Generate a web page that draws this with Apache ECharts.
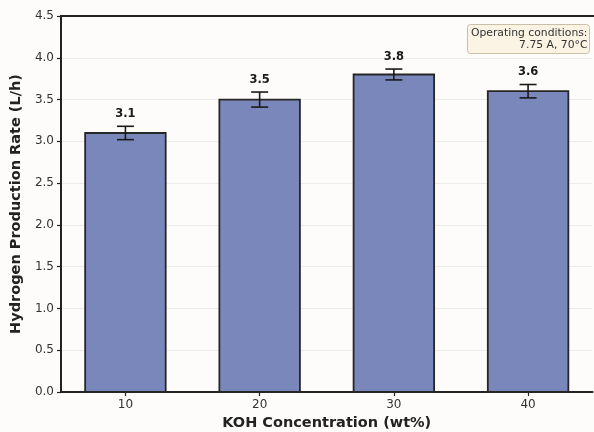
<!DOCTYPE html>
<html>
<head>
<meta charset="utf-8">
<script src="https://cdn.jsdelivr.net/npm/echarts@6/dist/echarts.min.js"></script>
<style>
html, body { margin: 0; padding: 0; background: #fdfcfb; }
#chart { width: 594px; height: 432px; }
</style>
</head>
<body>
<div id="chart"></div>
<script>
// KOH concentration (wt%) and measured hydrogen production rate (L/h)
const concentrations = [10, 20, 30, 40];
const rates = [3.1, 3.5, 3.8, 3.6];
const rateErrors = [0.08, 0.09, 0.065, 0.08];
const yTicks = [0, 0.5, 1, 1.5, 2, 2.5, 3, 3.5, 4, 4.5];
const barHalfWidth = 3; // in wt% units

const chart = echarts.init(document.getElementById('chart'), null, { renderer: 'canvas' });

const barData = concentrations.map((c, i) => [c, rates[i]]);
const errData = concentrations.map((c, i) => [c, rates[i], rateErrors[i]]);

const axisColor = '#222';
const fontFamily = 'DejaVu Sans';

chart.setOption({
  backgroundColor: '#fdfcfb',
  animation: false,
  grid: { left: 61, right: 1.5, top: 16, bottom: 40, outerBoundsMode: 'none' },
  xAxis: {
    type: 'value',
    min: 5.2,
    max: 44.8,
    name: 'KOH Concentration (wt%)',
    nameLocation: 'middle',
    nameGap: 24,
    nameTextStyle: { fontFamily, fontSize: 14.5, fontWeight: 'bold', color: '#222' },
    axisLine: { onZero: false, lineStyle: { color: axisColor, width: 2 } },
    axisTick: { show: true, customValues: concentrations, length: 4, lineStyle: { color: axisColor, width: 1.2 } },
    axisLabel: { customValues: concentrations, fontFamily, fontSize: 12, color: '#333', margin: 7 },
    splitLine: { show: false }
  },
  yAxis: {
    type: 'value',
    min: 0,
    max: 4.5,
    interval: 0.5,
    name: 'Hydrogen Production Rate (L/h)',
    nameLocation: 'middle',
    nameGap: 30,
    nameTextStyle: { fontFamily, fontSize: 14.5, fontWeight: 'bold', color: '#222' },
    axisLine: { show: true, lineStyle: { color: axisColor, width: 2 } },
    axisTick: { show: true, length: 4, lineStyle: { color: axisColor, width: 1.2 } },
    axisLabel: { fontFamily, fontSize: 12, color: '#333', margin: 7,
      formatter: v => v.toFixed(1) },
    splitLine: { show: true, lineStyle: { color: '#ececec', width: 1 } }
  },
  graphic: [
    // top frame line
    {
      type: 'line', z: 10,
      shape: { x1: 60, y1: 16, x2: 594, y2: 16 },
      style: { stroke: axisColor, lineWidth: 2 }
    },
    // operating conditions note
    {
      type: 'group', left: 467, top: 24, z: 20,
      children: [
        { type: 'rect', shape: { x: 0, y: 0, width: 122, height: 29, r: 3 },
          style: { fill: '#fbf3e4', stroke: '#c9bea8', lineWidth: 1 } },
        { type: 'text', x: 120, y: 3,
          style: { text: 'Operating conditions:\n7.75 A, 70°C', align: 'right', verticalAlign: 'top',
            fontFamily, fontSize: 10.8, lineHeight: 12, fill: '#333' } }
      ]
    }
  ],
  series: [
    {
      type: 'custom',
      name: 'rate',
      data: barData,
      z: 2,
      renderItem: (params, api) => {
        const x = api.value(0), y = api.value(1);
        const p1 = api.coord([x - barHalfWidth, y]);
        const p2 = api.coord([x + barHalfWidth, 0]);
        return {
          type: 'rect',
          shape: { x: p1[0], y: p1[1], width: p2[0] - p1[0], height: p2[1] - p1[1] },
          style: { fill: '#7a87bb', stroke: '#262626', lineWidth: 1.8 }
        };
      }
    },
    {
      type: 'custom',
      name: 'error',
      data: errData,
      z: 5,
      renderItem: (params, api) => {
        const x = api.value(0), y = api.value(1), e = api.value(2);
        const top = api.coord([x, y + e]);
        const bot = api.coord([x, y - e]);
        const cap = 8.5;
        const stroke = { stroke: '#1a1a1a', lineWidth: 1.6 };
        return {
          type: 'group',
          children: [
            { type: 'line', shape: { x1: top[0], y1: top[1], x2: bot[0], y2: bot[1] }, style: stroke },
            { type: 'line', shape: { x1: top[0] - cap, y1: top[1], x2: top[0] + cap, y2: top[1] }, style: stroke },
            { type: 'line', shape: { x1: bot[0] - cap, y1: bot[1], x2: bot[0] + cap, y2: bot[1] }, style: stroke },
            { type: 'text', x: top[0], y: top[1] - 6,
              style: { text: y.toFixed(1), align: 'center', verticalAlign: 'bottom',
                fontFamily, fontSize: 11.5, fontWeight: 'bold', fill: '#1a1a1a' } }
          ]
        };
      }
    }
  ]
});
</script>
</body>
</html>
